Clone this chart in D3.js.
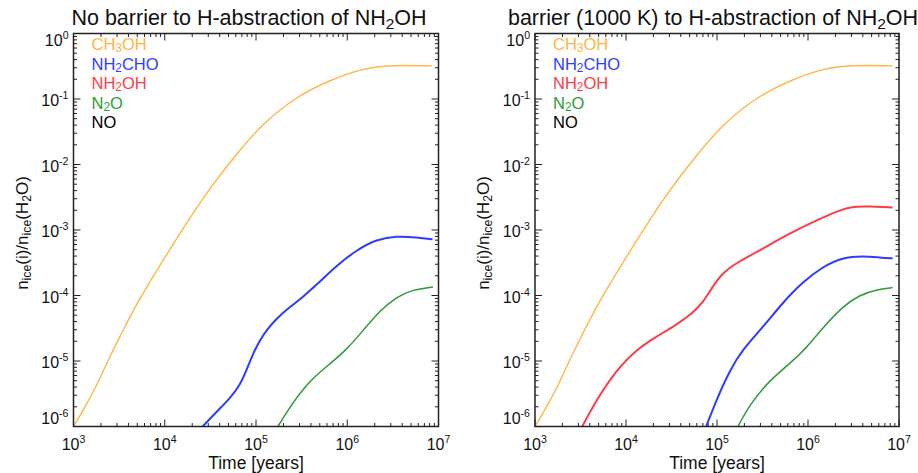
<!DOCTYPE html>
<html>
<head>
<meta charset="utf-8">
<script src="https://cdn.jsdelivr.net/npm/d3@7"></script>
<style>
  html, body { margin: 0; padding: 0; background: #fff; }
  svg { display: block; }
  text { font-family: "Liberation Sans", Arial, Helvetica, sans-serif; fill: #111; }
</style>
</head>
<body>
<svg id="chart" width="918" height="473"></svg>
<script>
// ---------------- data ----------------
const xTickExponents = [3, 4, 5, 6, 7];
const yTickExponents = [0, -1, -2, -3, -4, -5, -6];

const legendNames = ["CH3OH", "NH2CHO", "NH2OH", "N2O", "NO"];

// CH3OH (same in both panels)
const ch3ohTime  = [1.0e3, 1.29e3, 1.78e3, 2.5e3, 3.2e3, 4.9e3, 1.15e4, 2.5e4, 6.2e4, 1.2e5, 2.8e5, 6.5e5, 1.5e6, 3.0e6, 8.5e6];
const ch3ohValue = [1.0e-6, 1.8e-6, 4.1e-6, 1.17e-5, 2.3e-5, 7.6e-5, 5.2e-4, 2.9e-3, 1.5e-2, 4.3e-2, 0.11, 0.195, 0.295, 0.33, 0.32];

// Panel A: no barrier
const nh2choTimeA  = [2.6e4, 3.7e4, 5.19e4, 6.68e4, 7.9e4, 9.3e4, 1.11e5, 1.31e5, 1.69e5, 2.36e5, 3.3e5, 4.6e5, 7.7e5, 1.27e6, 2.1e6, 3.5e6, 5.8e6, 8.6e6];
const nh2choValueA = [1.0e-6, 1.68e-6, 2.7e-6, 4.3e-6, 7.3e-6, 1.31e-5, 2.1e-5, 2.97e-5, 4.5e-5, 6.7e-5, 9.6e-5, 1.45e-4, 2.9e-4, 4.95e-4, 7.2e-4, 8.1e-4, 7.7e-4, 7.2e-4];
const n2oTimeA  = [1.74e5, 2.35e5, 3.9e5, 6.5e5, 9.8e5, 1.5e6, 2.3e6, 3.5e6, 5.2e6, 8.7e6];
const n2oValueA = [1.0e-6, 2.0e-6, 5.1e-6, 9.1e-6, 1.48e-5, 2.95e-5, 6.0e-5, 9.5e-5, 1.23e-4, 1.35e-4];

// Panel B: barrier (1000 K)
const nh2ohTimeB  = [3.3e3, 4.7e3, 7.8e3, 1.29e4, 2.1e4, 3.5e4, 5.4e4, 6.9e4, 8.9e4, 1.15e5, 1.6e5, 3.2e5, 6.3e5, 1.23e6, 2.2e6, 3.1e6, 4.8e6, 8.5e6];
const nh2ohValueB = [1.0e-6, 2.5e-6, 7.2e-6, 1.48e-5, 2.3e-5, 3.5e-5, 5.4e-5, 7.6e-5, 1.35e-4, 2.2e-4, 3.1e-4, 5.2e-4, 8.9e-4, 1.4e-3, 2.0e-3, 2.3e-3, 2.3e-3, 2.2e-3];
const nh2choTimeB  = [7.6e4, 9.8e4, 1.38e5, 1.9e5, 3.2e5, 5.2e5, 8.7e5, 1.45e6, 2.4e6, 4.0e6, 6.2e6, 8.5e6];
const nh2choValueB = [1.0e-6, 2.5e-6, 7.2e-6, 1.48e-5, 3.3e-5, 7.6e-5, 1.6e-4, 2.75e-4, 3.8e-4, 4.0e-4, 3.8e-4, 3.7e-4];
const n2oTimeB  = [1.7e5, 2.3e5, 3.8e5, 6.3e5, 9.5e5, 1.45e6, 2.4e6, 3.7e6, 5.6e6, 8.5e6];
const n2oValueB = [1.0e-6, 2.2e-6, 5.1e-6, 9.1e-6, 1.55e-5, 3.2e-5, 6.8e-5, 1.02e-4, 1.23e-4, 1.32e-4];

// ---------------- styling ----------------
const colors = { CH3OH: "#ffb547", NH2CHO: "#2f3cff", NH2OH: "#ff3c46", N2O: "#2e9b3a", NO: "#000000" };
const widths = { CH3OH: 1.4, NH2CHO: 2.0, NH2OH: 2.0, N2O: 1.5, NO: 1.5 };

const zip = (t, v) => t.map((d, i) => ({ t: d, v: v[i] }));

const panels = [
  {
    x0: 73.5, x1: 438.5, titleX: 249,
    title: [["No barrier to H-abstraction of NH", 0], ["2", 1], ["OH", 0]],
    series: [
      { name: "CH3OH", data: zip(ch3ohTime, ch3ohValue) },
      { name: "NH2CHO", data: zip(nh2choTimeA, nh2choValueA) },
      { name: "N2O", data: zip(n2oTimeA, n2oValueA) }
    ]
  },
  {
    x0: 535, x1: 899, titleX: 713,
    title: [["barrier (1000 K) to H-abstraction of NH", 0], ["2", 1], ["OH", 0]],
    series: [
      { name: "CH3OH", data: zip(ch3ohTime, ch3ohValue) },
      { name: "NH2OH", data: zip(nh2ohTimeB, nh2ohValueB) },
      { name: "NH2CHO", data: zip(nh2choTimeB, nh2choValueB) },
      { name: "N2O", data: zip(n2oTimeB, n2oValueB) }
    ]
  }
];

const yTop = 33.5, yBot = 426.5;
const svg = d3.select("#chart");

// helper: text with subscripts; parts = [[str, isSub], ...]
function richText(sel, parts, size, shift) {
  const sh = shift == null ? size * 0.2 : shift;
  parts.forEach(([s, sub], i) => {
    const prevSub = i > 0 && parts[i - 1][1];
    const ts = sel.append("tspan").text(s);
    if (sub) ts.attr("font-size", size * 0.72).attr("dy", sh);
    else if (prevSub) ts.attr("dy", -sh);
  });
}
function chemParts(name) {
  const out = [];
  name.replace(/([A-Za-z()]+)|(\d+)/g, (m, a, b) => { out.push([m, !!b]); return m; });
  return out;
}
function powLabel(sel, exp, size) {
  sel.append("tspan").text("10");
  sel.append("tspan").text(String(exp))
    .attr("font-size", size * 0.66).attr("dy", -size * 0.42);
}

panels.forEach((p, pi) => {
  const x = d3.scaleLog().domain([1e3, 1e7]).range([p.x0, p.x1]);
  const y = d3.scaleLog().domain([1e-6, 1e0]).range([yBot, yTop]);
  const g = svg.append("g");

  const clipId = "clip" + pi;
  svg.append("clipPath").attr("id", clipId).append("rect")
    .attr("x", p.x0).attr("y", yTop).attr("width", p.x1 - p.x0).attr("height", yBot - yTop);

  // minor/major ticks
  const xMinor = [], yMinor = [];
  for (let e = 3; e < 7; e++) for (let k = 2; k <= 9; k++) xMinor.push(k * Math.pow(10, e));
  for (let e = -6; e < 0; e++) for (let k = 2; k <= 9; k++) yMinor.push(k * Math.pow(10, e));
  const ticks = g.append("g").attr("stroke", "#222").attr("stroke-width", 1);
  const majL = 7, minL = 3.5;
  xTickExponents.forEach(e => {
    const xx = x(Math.pow(10, e));
    ticks.append("line").attr("x1", xx).attr("x2", xx).attr("y1", yBot).attr("y2", yBot - majL);
    ticks.append("line").attr("x1", xx).attr("x2", xx).attr("y1", yTop).attr("y2", yTop + majL);
  });
  xMinor.forEach(v => {
    const xx = x(v);
    ticks.append("line").attr("x1", xx).attr("x2", xx).attr("y1", yBot).attr("y2", yBot - minL);
    ticks.append("line").attr("x1", xx).attr("x2", xx).attr("y1", yTop).attr("y2", yTop + minL);
  });
  yTickExponents.forEach(e => {
    const yy = y(Math.pow(10, e));
    ticks.append("line").attr("x1", p.x0).attr("x2", p.x0 + majL).attr("y1", yy).attr("y2", yy);
    ticks.append("line").attr("x1", p.x1).attr("x2", p.x1 - majL).attr("y1", yy).attr("y2", yy);
  });
  yMinor.forEach(v => {
    const yy = y(v);
    ticks.append("line").attr("x1", p.x0).attr("x2", p.x0 + minL).attr("y1", yy).attr("y2", yy);
    ticks.append("line").attr("x1", p.x1).attr("x2", p.x1 - minL).attr("y1", yy).attr("y2", yy);
  });

  // curves
  const line = d3.line().x(d => x(d.t)).y(d => y(d.v)).curve(d3.curveBasis);
  const cg = g.append("g").attr("clip-path", `url(#${clipId})`);
  p.series.forEach(s => {
    cg.append("path").datum(s.data).attr("d", line)
      .attr("fill", "none").attr("stroke", colors[s.name])
      .attr("stroke-width", widths[s.name]).attr("stroke-linejoin", "round");
  });

  // frame
  g.append("rect").attr("x", p.x0).attr("y", yTop).attr("width", p.x1 - p.x0).attr("height", yBot - yTop)
    .attr("fill", "none").attr("stroke", "#222").attr("stroke-width", 1.5);

  // tick labels
  const fs = 16;
  xTickExponents.forEach(e => {
    const t = g.append("text").attr("x", x(Math.pow(10, e))).attr("y", 450)
      .attr("text-anchor", "middle").attr("font-size", fs);
    powLabel(t, e, fs);
  });
  yTickExponents.forEach((e, i) => {
    // end labels are kept inside the axis range, as in the reference
    let yy = y(Math.pow(10, e)) + 7;
    if (i === 0) yy = Math.max(yy, yTop + 12);
    if (i === yTickExponents.length - 1) yy = Math.min(yy, yBot - 3);
    const t = g.append("text").attr("x", p.x0 - 5).attr("y", yy)
      .attr("text-anchor", "end").attr("font-size", fs);
    powLabel(t, e, fs);
  });

  // axis titles
  g.append("text").attr("x", (p.x0 + p.x1) / 2).attr("y", 469).attr("text-anchor", "middle")
    .attr("font-size", 17.5).text("Time [years]");
  const yl = g.append("text").attr("text-anchor", "middle").attr("font-size", 17)
    .attr("transform", `translate(${p.x0 - 46},233) rotate(-90)`);
  richText(yl, [["n", 0], ["ice", 1], ["(i)/n", 0], ["ice", 1], ["(H", 0], ["2", 1], ["O)", 0]], 17);

  // title
  const tt = g.append("text").attr("x", p.titleX).attr("y", 25).attr("text-anchor", "middle").attr("font-size", 21.5);
  richText(tt, p.title, 21.5);

  // legend
  legendNames.forEach((n, i) => {
    const t = g.append("text").attr("x", p.x0 + 18).attr("y", 50 + i * 19.5)
      .attr("font-size", 16.5).style("fill", colors[n]);
    richText(t, chemParts(n), 16.5, 2);
  });
});
</script>
</body>
</html>
